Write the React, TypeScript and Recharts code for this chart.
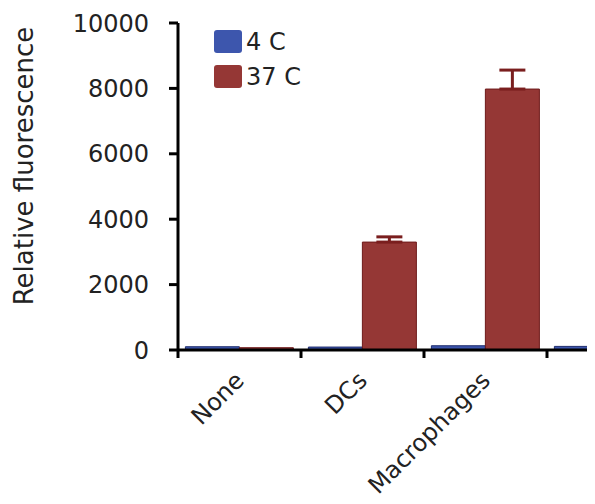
import React from 'react';
import { BarChart, Bar, XAxis, YAxis, Legend, ErrorBar } from 'recharts';

const categories = ['None', 'DCs', 'Macrophages', ''];
const cold4C = [100, 90, 130, 110];
const warm37C = [70, 3300, 7980, 0];
const warm37CErrUp = [null, 160, 580, null];
const yTicks = [0, 2000, 4000, 6000, 8000, 10000];
const seriesNames = ['4 C', '37 C'];

const FONT = '"DejaVu Sans", sans-serif';
const BLUE = '#3d56ad';
const RED = '#953735';
const seriesColors = [BLUE, RED];

const data = categories.map((name, i) => ({
  name,
  cold: cold4C[i],
  warm: warm37C[i],
  warmErr: warm37CErrUp[i] == null ? null : [0, warm37CErrUp[i]],
}));

// label at the category centre, tick mark on the category's left edge
const XTick = ({ x, y, payload }: any) => {
  const half = payload && payload.offset ? payload.offset : 61.5;
  return (
    <g>
      <line x1={x - half} x2={x - half} y1={y - 12} y2={y - 4} stroke="#000" strokeWidth={3} />
      <g transform={`translate(${x + 6},${y + 20})`}>
        <text transform="rotate(-45)" textAnchor="end" fontFamily={FONT} fontSize={24} fill="#222">
          {payload.value}
        </text>
      </g>
    </g>
  );
};

const YLabel = () => (
  <text
    transform="translate(33,166) rotate(-90)"
    textAnchor="middle"
    fontFamily={FONT}
    fontSize={26}
    fill="#222"
  >
    Relative fluorescence
  </text>
);

const LegendBox = () => (
  <div style={{ fontFamily: FONT, fontSize: 24, color: '#222' }}>
    {seriesNames.map((name, i) => (
      <div key={name} style={{ display: 'flex', alignItems: 'center', height: 35 }}>
        <span
          style={{
            display: 'inline-block',
            width: 28,
            height: 23,
            borderRadius: 3,
            background: seriesColors[i],
            marginRight: 4,
          }}
        />
        {name}
      </div>
    ))}
  </div>
);

export default function App() {
  return (
    <div style={{ margin: -8, width: 595, height: 504, overflow: 'hidden', background: '#fff' }}>
      <BarChart
        width={670}
        height={504}
        data={data}
        margin={{ top: 23, right: 0, left: 0, bottom: 0 }}
        barCategoryGap="6%"
        barGap={0}
      >
        <XAxis
          dataKey="name"
          height={154}
          interval={0}
          tick={<XTick />}
          tickSize={8}
          tickMargin={4}
          axisLine={{ stroke: '#000', strokeWidth: 3 }}
          tickLine={false}
        />
        <YAxis
          width={178}
          domain={[0, 10000]}
          ticks={yTicks}
          interval={0}
          tickSize={9}
          tickMargin={20}
          tick={{ fontFamily: FONT, fontSize: 24, fill: '#222' }}
          axisLine={{ stroke: '#000', strokeWidth: 3 }}
          tickLine={{ stroke: '#000', strokeWidth: 3 }}
          label={<YLabel />}
        />
        <Legend
          layout="horizontal"
          align="center"
          verticalAlign="middle"
          content={<LegendBox />}
          wrapperStyle={{ position: 'absolute', left: 214, top: 24, width: 120 }}
        />
        <Bar dataKey="cold" name="4 C" fill={BLUE} stroke="#1f2d6e" strokeWidth={1} isAnimationActive={false} />
        <Bar dataKey="warm" name="37 C" fill={RED} stroke="#6e1a1a" strokeWidth={1} isAnimationActive={false}>
          <ErrorBar dataKey="warmErr" direction="y" width={13} strokeWidth={3} stroke="#7a1e1e" />
        </Bar>
      </BarChart>
    </div>
  );
}
